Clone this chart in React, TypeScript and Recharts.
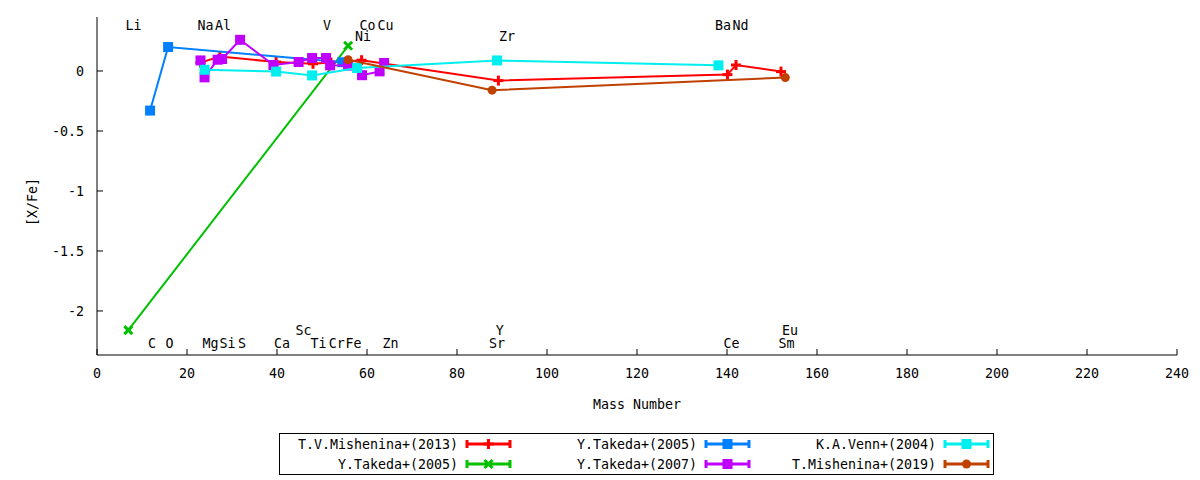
import React from "react";
import { ScatterChart, Scatter, XAxis, YAxis, Label } from "recharts";

// [mass number, [X/Fe]]
const mishenina2013: [number, number][] = [
  [23.0, 0.07], [27.3, 0.12], [39.8, 0.075], [48.0, 0.06], [52.0, 0.07],
  [58.8, 0.09], [89.2, -0.08], [140.1, -0.03], [142.0, 0.05], [152.0, -0.005],
];
const takeda2005a: [number, number][] = [
  [6.96, -2.16], [55.8, 0.21],
];
const takeda2005b: [number, number][] = [
  [11.8, -0.33], [15.8, 0.2], [54.5, 0.073],
];
const takeda2007: [number, number][] = [
  [23.0, 0.088], [23.9, -0.053], [26.8, 0.094], [27.8, 0.1], [31.8, 0.26],
  [39.2, 0.05], [44.8, 0.075], [47.8, 0.108], [50.9, 0.108], [51.8, 0.047],
  [55.8, 0.045], [58.9, -0.035], [62.8, -0.003], [63.8, 0.067],
];
const venn2004: [number, number][] = [
  [23.9, 0.01], [39.8, -0.005], [47.8, -0.037], [57.8, 0.025], [88.9, 0.088], [138.1, 0.047],
];
const mishenina2019: [number, number][] = [
  [55.8, 0.094], [87.8, -0.16], [152.96, -0.055],
];

// element labels: name, mass position, height
const elemNames = ["Li", "Na", "Al", "V", "Co", "Cu", "Ni", "Zr", "Ba", "Nd",
  "C", "O", "Mg", "Si", "S", "Ca", "Sc", "Ti", "Cr", "Fe", "Zn", "Y", "Sr", "Ce", "Sm", "Eu"];
const elemMass = [8.1, 24.1, 28.0, 51.1, 60.1, 64.1, 59.1, 91.1, 139.1, 143.0,
  12.2, 16.1, 25.2, 29.0, 32.2, 41.1, 45.9, 49.2, 53.3, 57.0, 65.2, 89.5, 88.9, 141.0, 153.2, 154.0];
const elemY = [0.38, 0.38, 0.38, 0.38, 0.38, 0.38, 0.29, 0.29, 0.38, 0.38,
  -2.27, -2.27, -2.27, -2.27, -2.27, -2.27, -2.16, -2.27, -2.27, -2.27, -2.27, -2.16, -2.27, -2.27, -2.27, -2.16];

const xTicks = [0, 20, 40, 60, 80, 100, 120, 140, 160, 180, 200, 220, 240];
const yTicks = [-2, -1.5, -1, -0.5, 0];

const FONT = "'DejaVu Sans Mono', monospace";

type Marker = "plus" | "cross" | "square" | "circle";

const SERIES: { name: string; color: string; marker: Marker; data: [number, number][] }[] = [
  { name: "T.V.Mishenina+(2013)", color: "#ff0000", marker: "plus", data: mishenina2013 },
  { name: "Y.Takeda+(2005)", color: "#00c000", marker: "cross", data: takeda2005a },
  { name: "Y.Takeda+(2005)", color: "#0080ff", marker: "square", data: takeda2005b },
  { name: "Y.Takeda+(2007)", color: "#c000ff", marker: "square", data: takeda2007 },
  { name: "K.A.Venn+(2004)", color: "#00eeee", marker: "square", data: venn2004 },
  { name: "T.Mishenina+(2019)", color: "#c04000", marker: "circle", data: mishenina2019 },
];

function drawMarker(kind: Marker, cx: number, cy: number, color: string) {
  if (kind === "plus") {
    return (
      <g stroke={color} strokeWidth={3}>
        <line x1={cx - 5} y1={cy} x2={cx + 5} y2={cy} />
        <line x1={cx} y1={cy - 5} x2={cx} y2={cy + 5} />
      </g>
    );
  }
  if (kind === "cross") {
    return (
      <g stroke={color} strokeWidth={3}>
        <line x1={cx - 4} y1={cy - 4} x2={cx + 4} y2={cy + 4} />
        <line x1={cx - 4} y1={cy + 4} x2={cx + 4} y2={cy - 4} />
      </g>
    );
  }
  if (kind === "circle") return <circle cx={cx} cy={cy} r={4.5} fill={color} />;
  return <rect x={cx - 5} y={cy - 5} width={10} height={10} fill={color} />;
}

const labelData = elemNames.map((n, i) => ({ x: elemMass[i], y: elemY[i], name: n }));

function LegendBox() {
  const colRight = [179, 418, 657];
  return (
    <svg width={716} height={43} style={{ position: "absolute", left: 279, top: 433 }}>
      <rect x={0.5} y={0.5} width={714} height={41} fill="white" stroke="black" />
      {SERIES.map((s, i) => {
        const col = Math.floor(i / 2);
        const cy = i % 2 === 0 ? 11 : 31;
        const r = colRight[col];
        const x1 = r + 9;
        const x2 = r + 52;
        return (
          <g key={i}>
            <text x={r} y={cy} textAnchor="end" dominantBaseline="central"
              fontFamily={FONT} fontSize={13.3} fill="black">{s.name}</text>
            <g stroke={s.color} strokeWidth={3}>
              <line x1={x1} y1={cy} x2={x2} y2={cy} />
              <line x1={x1} y1={cy - 4} x2={x1} y2={cy + 4} />
              <line x1={x2} y1={cy - 4} x2={x2} y2={cy + 4} />
            </g>
            {drawMarker(s.marker, (x1 + x2) / 2, cy, s.color)}
          </g>
        );
      })}
    </svg>
  );
}

export default function App() {
  const tickStyle = { fontFamily: FONT, fontSize: 13.3, fill: "black" };
  return (
    <div style={{ position: "absolute", left: 0, top: 0, width: 1200, height: 480, background: "white" }}>
      <ScatterChart width={1200} height={480} margin={{ top: 17, right: 23, bottom: 0, left: 0 }}>
        <XAxis xAxisId="b" type="number" dataKey="x" domain={[0, 240]} ticks={xTicks}
          allowDataOverflow height={125} tickSize={-6} tickMargin={20}
          stroke="black" tick={tickStyle}>
          <Label value="Mass Number" position="insideTop" offset={45}
            style={{ fontFamily: FONT, fontSize: 13.3, fill: "black" }} />
        </XAxis>
        <XAxis xAxisId="t" orientation="top" type="number" dataKey="x" domain={[0, 240]} ticks={xTicks}
          allowDataOverflow height={0} tickSize={-6} tickFormatter={() => ""} stroke="black" />
        <YAxis yAxisId="l" type="number" dataKey="y" domain={[-2.367, 0.45]} ticks={yTicks}
          allowDataOverflow width={97} tickSize={-6} tickMargin={19}
          tickFormatter={(v: number) => String(v)} stroke="black" tick={tickStyle}>
          <Label
            content={(p: any) => {
              const vb = p.viewBox || { x: 0, y: 17, width: 97, height: 338 };
              const cx = 32;
              const cy = vb.y + vb.height / 2 + 16;
              return (
                <text x={cx} y={cy} transform={`rotate(-90, ${cx}, ${cy})`} textAnchor="middle"
                  dominantBaseline="central" fontFamily={FONT} fontSize={13.3} fill="black">
                  [X/Fe]
                </text>
              );
            }}
          />
        </YAxis>
        <YAxis yAxisId="r" orientation="right" type="number" dataKey="y" domain={[-2.367, 0.45]}
          ticks={yTicks} allowDataOverflow width={0} tickSize={-6} tickFormatter={() => ""} stroke="black" />

        <Scatter xAxisId="b" yAxisId="l" data={labelData} isAnimationActive={false}
          shape={(p: any) => (
            <text x={p.cx} y={p.cy} textAnchor="middle" dominantBaseline="central"
              fontFamily={FONT} fontSize={13.3} fill="black">{p.payload.name}</text>
          )} />

        {SERIES.map((s, i) => (
          <Scatter key={i} xAxisId="b" yAxisId="l" name={s.name}
            data={s.data.map(([x, y]) => ({ x, y }))}
            fill={s.color} isAnimationActive={false}
            line={{ stroke: s.color, strokeWidth: 2 }}
            shape={(p: any) => drawMarker(s.marker, p.cx, p.cy, s.color)} />
        ))}
      </ScatterChart>
      <LegendBox />
    </div>
  );
}
